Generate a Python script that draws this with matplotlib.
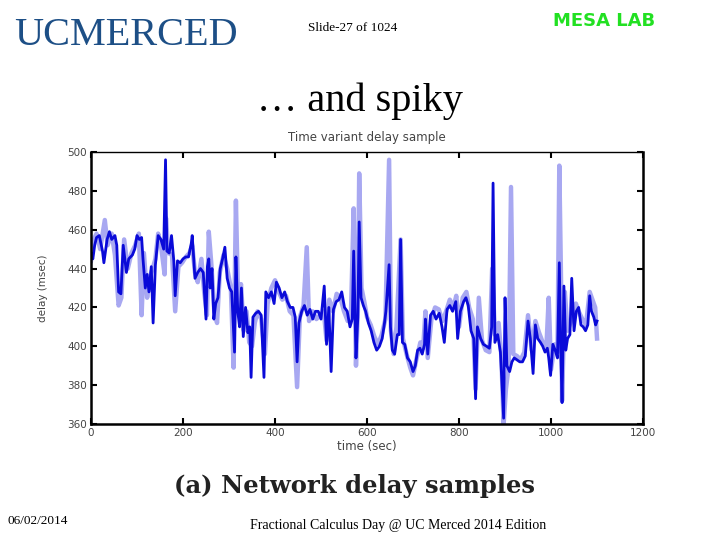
import matplotlib
matplotlib.use("Agg")
import matplotlib.pyplot as plt

# dark (foreground) delay trace
t_dark = [0, 4, 8, 12, 18, 25, 28, 35, 40, 45, 52, 56, 60, 65, 70, 77, 82, 90, 95, 100,
          105, 110, 113, 118, 122, 126, 131, 135, 140, 146, 152, 158, 162, 165, 170, 175, 180, 183, 188, 194,
          200, 206, 212, 218, 220, 226, 232, 238, 244, 250, 253, 256, 259, 263, 267, 271, 276, 281, 286, 291,
          296, 301, 306, 312, 315, 319, 323, 327, 331, 336, 341, 345, 348, 352, 358, 364, 370, 376, 380, 386,
          392, 398, 403, 409, 415, 421, 427, 433, 439, 444, 448, 452, 458, 464, 470, 476, 482, 488, 494, 500,
          507, 512, 517, 522, 527, 533, 539, 545, 551, 557, 563, 568, 571, 576, 580, 583, 587, 592, 597, 603,
          609, 615, 621, 627, 633, 638, 641, 648, 651, 655, 660, 666, 670, 673, 677, 682, 688, 694, 700, 705,
          710, 715, 720, 725, 727, 732, 738, 744, 750, 757, 763, 768, 774, 780, 786, 793, 797, 803, 810, 815,
          820, 826, 832, 836, 840, 847, 853, 860, 866, 871, 874, 878, 884, 890, 897, 900, 904, 910, 915, 920,
          926, 932, 938, 944, 950, 955, 961, 966, 971, 977, 982, 987, 992, 995, 999, 1004, 1009, 1014, 1018, 1021,
          1024, 1028, 1032, 1036, 1041, 1045, 1050, 1055, 1060, 1065, 1070, 1075, 1080, 1084, 1088, 1093, 1097, 1100]
v_dark = [448, 445, 452, 456, 457, 449, 443, 455, 459, 455, 457, 452, 428, 427, 452, 438, 445, 447, 450, 457,
          455, 456, 445, 430, 437, 428, 441, 412, 442, 457, 455, 450, 496, 449, 448, 457, 444, 426, 444, 443,
          445, 446, 446, 453, 457, 435, 438, 440, 438, 414, 441, 445, 430, 440, 414, 422, 425, 440, 445, 451,
          435, 430, 428, 397, 446, 418, 410, 430, 405, 420, 407, 410, 384, 415, 417, 418, 416, 384, 428, 425,
          428, 422, 433, 430, 425, 428, 423, 420, 420, 415, 392, 412, 418, 421, 416, 419, 414, 418, 418, 414,
          431, 401, 420, 387, 419, 423, 424, 428, 420, 418, 410, 414, 449, 394, 415, 464, 425, 421, 418, 412,
          408, 402, 398, 400, 404, 412, 418, 442, 410, 398, 396, 406, 406, 455, 402, 401, 394, 392, 387, 390,
          398, 399, 396, 401, 414, 396, 416, 418, 414, 417, 410, 402, 419, 421, 418, 423, 404, 418, 423, 425,
          421, 408, 404, 373, 410, 404, 401, 400, 399, 410, 484, 402, 406, 397, 363, 425, 390, 387, 392, 394,
          393, 392, 392, 395, 413, 404, 386, 411, 404, 402, 400, 397, 399, 394, 385, 401, 398, 394, 443, 398,
          371, 431, 398, 404, 406, 435, 408, 418, 420, 411, 410, 408, 411, 426, 418, 415, 411, 413]

# light (background) trace
t_light = [0, 6, 12, 20, 30, 36, 45, 52, 60, 66, 72, 80, 88, 96, 104, 110, 115, 122, 128, 134,
           140, 146, 152, 160, 163, 168, 176, 183, 190, 198, 206, 214, 220, 226, 232, 240, 246, 252, 256, 262,
           268, 274, 280, 288, 296, 304, 310, 315, 320, 326, 332, 338, 344, 350, 356, 362, 370, 378, 384, 392,
           400, 408, 416, 424, 432, 440, 448, 454, 462, 469, 474, 482, 490, 498, 506, 512, 518, 526, 534, 542,
           550, 558, 565, 571, 576, 580, 583, 588, 594, 600, 608, 616, 624, 632, 640, 648, 652, 658, 664, 673,
           678, 686, 694, 700, 708, 716, 722, 727, 732, 740, 748, 756, 764, 772, 780, 788, 794, 800, 808, 816,
           822, 830, 836, 843, 850, 858, 866, 872, 878, 886, 892, 897, 902, 908, 913, 918, 926, 934, 942, 950,
           958, 966, 974, 982, 990, 995, 1000, 1008, 1014, 1018, 1022, 1024, 1030, 1036, 1042, 1048, 1054, 1060, 1068, 1076,
           1084, 1090, 1096, 1100]
v_light = [444, 455, 458, 450, 465, 452, 458, 447, 421, 425, 455, 440, 448, 452, 458, 416, 448, 425, 436, 440,
           445, 458, 452, 437, 466, 448, 447, 418, 441, 443, 446, 448, 452, 438, 433, 445, 428, 416, 459, 441,
           418, 412, 438, 447, 440, 430, 389, 475, 420, 432, 408, 418, 402, 400, 412, 418, 414, 396, 422, 430,
           434, 428, 424, 426, 418, 416, 379, 415, 421, 451, 413, 418, 414, 416, 418, 403, 424, 418, 427, 425,
           418, 413, 416, 471, 390, 418, 489, 430, 423, 415, 411, 405, 401, 406, 414, 496, 408, 396, 410, 455,
           404, 396, 389, 385, 394, 402, 399, 418, 394, 414, 420, 419, 413, 418, 424, 420, 426, 410, 425, 428,
           420, 414, 378, 425, 403, 398, 397, 440, 406, 412, 395, 360, 378, 390, 482, 396, 395, 393, 397, 416,
           398, 413, 407, 402, 400, 425, 388, 401, 397, 493, 430, 372, 428, 408, 412, 416, 422, 418, 414, 411,
           428, 424, 420, 404]

y_ticks = [360, 380, 400, 420, 440, 460, 480, 500]
x_ticks = [0, 200, 400, 600, 800, 1000, 1200]

fig = plt.figure(figsize=(7.2, 5.4), dpi=100)
fig.patch.set_facecolor("white")

# slide header / footer
fig.text(0.02, 0.935, "UCMERCED", family="Liberation Serif", fontsize=29,
         color="#1d4f86", va="center", ha="left")
fig.text(0.428, 0.949, "Slide-27 of 1024", family="Liberation Serif", fontsize=9.5,
         va="center", ha="left")
fig.text(0.768, 0.962, "MESA LAB", family=["Liberation Sans Narrow", "DejaVu Sans"],
         fontsize=13, fontweight="bold", color="#22e022", va="center", ha="left")
fig.text(0.5, 0.812, "… and spiky", family="Liberation Serif", fontsize=29,
         va="center", ha="center")
fig.text(0.492, 0.1, "(a) Network delay samples", family="DejaVu Serif", fontsize=17.5,
         fontweight="bold", color="#222222", va="center", ha="center")
fig.text(0.01, 0.036, "06/02/2014", family="Liberation Serif", fontsize=9.5,
         va="center", ha="left")
fig.text(0.347, 0.026, "Fractional Calculus Day @ UC Merced 2014 Edition",
         family="Liberation Serif", fontsize=10, va="center", ha="left")

# the chart itself
ax = fig.add_axes([0.1264, 0.2148, 0.7667, 0.5037])
ax.plot(t_light, v_light, color="#6f6fe8", alpha=0.6, lw=3.2)
ax.plot(t_dark, v_dark, color="#0a0ad8", lw=2.0)

ax.set_xlim(0, 1200)
ax.set_ylim(360, 500)
ax.set_xticks(x_ticks)
ax.set_yticks(y_ticks)
ax.tick_params(direction="in", length=4, width=1.5, top=True, right=True,
               labelsize=7.5, labelcolor="#444444", pad=3)
for side in ["left", "bottom", "right"]:
    ax.spines[side].set_linewidth(1.8)
ax.spines["top"].set_linewidth(1.0)

ax.set_title("Time variant delay sample", fontsize=8.5, color="#444444", pad=8)
ax.set_xlabel("time (sec)", fontsize=8.5, color="#444444", labelpad=1)
ax.set_ylabel("delay (msec)", fontsize=7.5, color="#444444", labelpad=14)

fig.savefig("out.png", dpi=100)
